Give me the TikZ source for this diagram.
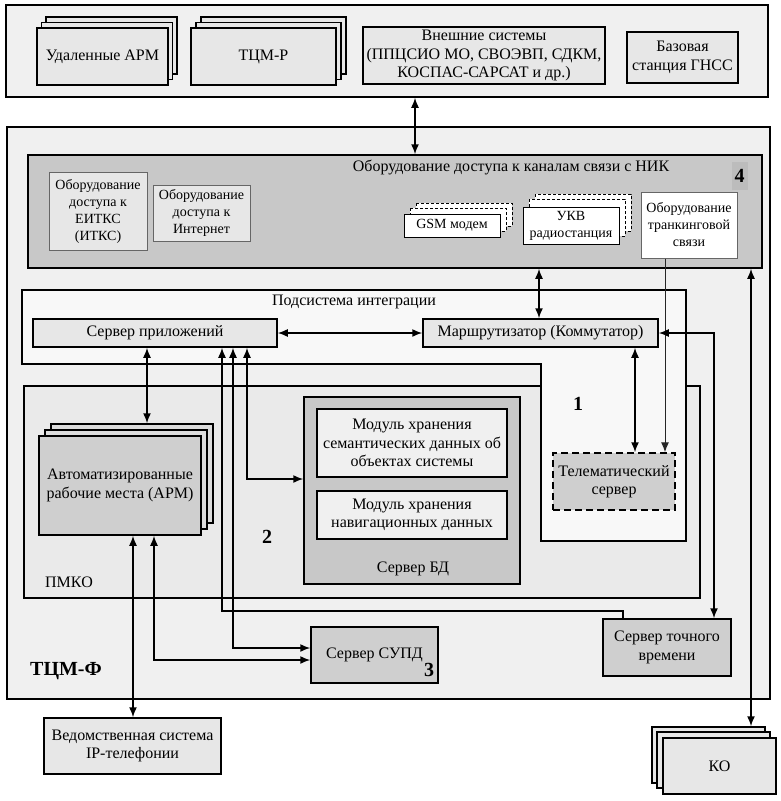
\documentclass[tikz,border=0pt]{standalone}
\usepackage{fontspec}
\setmainfont{Liberation Serif}
\usetikzlibrary{arrows.meta}

\definecolor{pnlGray}{RGB}{240,240,240}
\definecolor{boxGray}{RGB}{231,231,231}
\definecolor{nikGray}{RGB}{200,200,200}
\definecolor{intGray}{RGB}{248,248,248}
\definecolor{pmkoGray}{RGB}{234,234,234}
\definecolor{darkGray}{RGB}{207,207,207}
\definecolor{layerGray}{RGB}{220,220,220}
\definecolor{tagGray}{RGB}{188,188,188}

\tikzset{every picture/.style={line width=0.75pt}}
\tikzset{
  panel/.style={draw, line width=1.5pt, fill=pnlGray, inner sep=0pt},
  unit/.style={draw, line width=1.5pt, fill=boxGray, inner sep=0pt, align=center, font=\fontsize{16}{18.5}\selectfont},
  darkunit/.style={unit, fill=darkGray},
  smallunit/.style={draw=black!60, line width=0.9pt, fill=boxGray, inner sep=0pt, align=center, font=\fontsize{14}{17}\selectfont},
  whiteunit/.style={draw, line width=1pt, fill=white, inner sep=0pt, align=center, font=\fontsize{14}{17}\selectfont},
  dashlayer/.style={draw, line width=1pt, dashed, dash pattern=on 3pt off 2pt, fill=white},
  layer/.style={draw, line width=1.5pt, fill=boxGray},
  caption/.style={inner sep=0pt, align=center, font=\fontsize{16}{18.5}\selectfont},
  tag/.style={inner sep=0pt, font=\fontsize{20}{20}\selectfont\bfseries},
  link/.style={line width=1.5pt, -{Latex[length=10pt,width=8pt]}},
  bilink/.style={line width=1.5pt, {Latex[length=10pt,width=8pt]}-{Latex[length=10pt,width=8pt]}},
}

\begin{document}
\begin{tikzpicture}[x=1pt,y=1pt,yscale=-1,xscale=1]
\useasboundingbox (0,0) rectangle (780,801);

%External systems panel
\node [panel, minimum width=762, minimum height=92] (ext) at (387,51) {};
%Stack: remote ARM
\draw [layer] (46,17) rectangle (177,74);
\draw [layer] (41.5,22.5) rectangle (172.5,79.5);
\node [unit, minimum width=131, minimum height=57] (remote) at (102.5,56.5) {Удаленные АРМ};
%Stack: TCM-R
\draw [layer] (201,17) rectangle (346,74);
\draw [layer] (196,22.5) rectangle (341,79.5);
\node [unit, minimum width=145, minimum height=57] (tcmr) at (263.5,56.5) {ТЦМ-Р};
\node [unit, minimum width=242, minimum height=57] (extsys) at (484,55.5) {Внешние системы\\(ППЦСИО МО, СВОЭВП, СДКМ,\\КОСПАС-САРСАТ и др.)};
\node [unit, minimum width=111, minimum height=51] (gnss) at (682.5,57.5) {Базовая\\станция ГНСС};

%TCM-F panel
\node [panel, minimum width=763, minimum height=572] (tcmf) at (388.5,413) {};
\node [tag] (tcmflbl) at (66,671) {ТЦМ-Ф};

%Access equipment (NIK)
\node [panel, fill=nikGray, minimum width=734, minimum height=113] (nik) at (395,211.5) {};
\node [caption] (niklbl) at (511,167) {Оборудование доступа к каналам связи с НИК};
\node [tag, fill=tagGray, minimum width=16, minimum height=28] (tag4) at (739.5,176) {4};
\node [smallunit, minimum width=98, minimum height=78] (eitks) at (98,211) {Оборудование\\доступа к\\ЕИТКС\\(ИТКС)};
\node [smallunit, minimum width=97, minimum height=56] (inet) at (201.5,213) {Оборудование\\доступа к\\Интернет};
%Stack: GSM
\draw [dashlayer] (416,203) rectangle (512,226);
\draw [dashlayer] (410,208) rectangle (506,231);
\node [whiteunit, minimum width=96, minimum height=23] (gsm) at (452,225.5) {GSM модем};
%Stack: VHF
\draw [dashlayer] (535,194) rectangle (631,231);
\draw [dashlayer] (529,199) rectangle (625,236);
\node [whiteunit, minimum width=96, minimum height=37] (vhf) at (571,225.5) {УКВ\\радиостанция};
\node [whiteunit, draw=black!60, minimum width=96, minimum height=66] (trunk) at (689,225) {Оборудование\\транкинговой\\связи};

%PMKO
\draw [line width=1.5pt, fill=pmkoGray] (24,386) rectangle (700,598);
\node [caption] (pmkolbl) at (69,582) {ПМКО};
%Integration subsystem
\draw [line width=1.5pt, fill=intGray] (22,290) -- (686,290) -- (686,541) -- (541,541) -- (541,364) -- (22,364) -- cycle;
\node [caption] (intlbl) at (354,302) {Подсистема интеграции};
\node [unit, minimum width=244, minimum height=28] (apps) at (155,333) {Сервер приложений};
\node [unit, minimum width=235, minimum height=28] (router) at (540.5,333) {Маршрутизатор (Коммутатор)};
\node [tag] (tag1) at (578,404) {1};
\node [darkunit, dashed, dash pattern=on 7pt off 4pt, minimum width=122, minimum height=57] (telem) at (614,481.5) {Телематический\\сервер};

%Stack: workstations
\node [layer, fill=layerGray, minimum width=162, minimum height=99] (armC) at (132,473.5) {};
\node [layer, fill=layerGray, minimum width=162, minimum height=99] (armB) at (126,479.5) {};
\node [darkunit, minimum width=162, minimum height=99] (arm) at (120,485.5) {Автоматизированные\\рабочие места (АРМ)};
\node [tag] (tag2) at (267,537) {2};

%DB server
\node [darkunit, fill=nikGray, minimum width=216, minimum height=187] (db) at (412,490.5) {};
\node [unit, fill=pnlGray, minimum width=190, minimum height=68] (semmod) at (412,443) {Модуль хранения\\семантических данных об\\объектах системы};
\node [unit, fill=pnlGray, minimum width=190, minimum height=48] (navmod) at (412,515) {Модуль хранения\\навигационных данных};
\node [caption] (dblbl) at (413,569) {Сервер БД};

\node [darkunit, minimum width=127, minimum height=56] (supd) at (374.5,655) {Сервер СУПД};
\node [tag] (tag3) at (429,670) {3};
\node [darkunit, minimum width=128, minimum height=57] (time) at (667,647.5) {Сервер точного\\времени};

%Outside nodes
\node [unit, minimum width=177, minimum height=56] (voip) at (132.5,746) {Ведомственная система\\IP-телефонии};
\node [layer, minimum width=113, minimum height=56] (koC) at (708.5,755) {};
\node [layer, minimum width=113, minimum height=56] (koB) at (713.5,760) {};
\node [unit, minimum width=113, minimum height=56] (ko) at (719.5,766) {КО};

%Guide coordinates
\coordinate (xExt) at (415,0);
\coordinate (xNik) at (539,0);
\coordinate (xTel) at (635,0);
\coordinate (xTrk) at (665,0);
\coordinate (xTime) at (714,0);
\coordinate (xKo) at (751,0);
\coordinate (xArm) at (147,0);
\coordinate (xDb) at (247,0);
\coordinate (xSync) at (222,0);
\coordinate (xSupd) at (233,0);
\coordinate (xVoip) at (133,0);
\coordinate (xArmS) at (154,0);
\coordinate (xSyncT) at (623,0);
\coordinate (yDb) at (0,479);
\coordinate (ySync) at (0,611);
\coordinate (ySupdA) at (0,648);
\coordinate (ySupdB) at (0,660);

%Connectors
\draw [bilink] (ext.south -| xExt) -- (nik.north -| xExt);
\draw [bilink] (nik.south -| xNik) -- (router.north -| xNik);
\draw [bilink] (apps.east) -- (router.west);
\draw [bilink] (router.south -| xTel) -- (telem.north -| xTel);
\draw [link, line width=1pt, draw=black!85] (trunk.south -| xTrk) -- (telem.north -| xTrk);
\draw [bilink] (router.east) -- (xTime |- router.east) -- (time.north -| xTime);
\draw [bilink] (nik.south -| xKo) -- (koC.north -| xKo);
\draw [bilink] (apps.south -| xArm) -- (armC.north -| xArm);
\draw [bilink] (apps.south -| xDb) -- (xDb |- yDb) -- (db.west |- yDb);
\draw [link] (time.north -| xSyncT) -- (xSyncT |- ySync) -- (xSync |- ySync) -- (apps.south -| xSync);
\draw [bilink] (apps.south -| xSupd) -- (xSupd |- ySupdA) -- (supd.west |- ySupdA);
\draw [bilink] (arm.south -| xVoip) -- (voip.north -| xVoip);
\draw [bilink] (arm.south -| xArmS) -- (xArmS |- ySupdB) -- (supd.west |- ySupdB);

\end{tikzpicture}
\end{document}
